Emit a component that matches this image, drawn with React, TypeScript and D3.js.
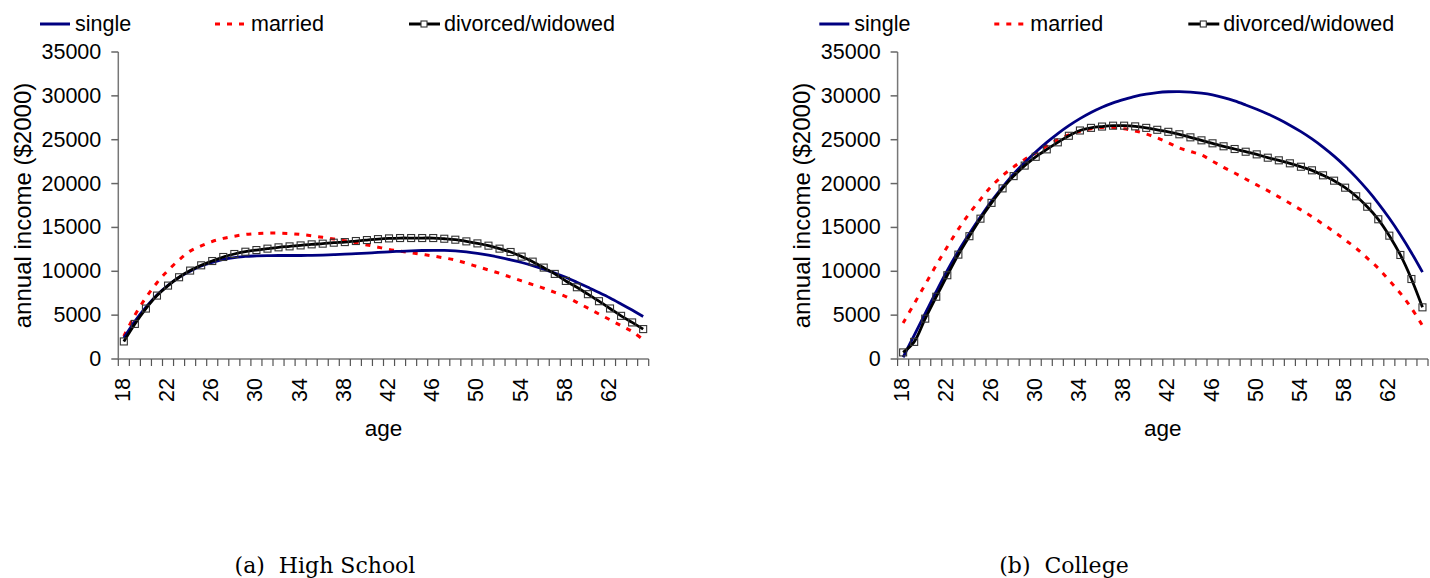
import React from "react";
import * as d3 from "d3";

const ages = [
  18, 19, 20, 21, 22, 23, 24, 25, 26, 27, 28, 29,
  30, 31, 32, 33, 34, 35, 36, 37, 38, 39, 40, 41,
  42, 43, 44, 45, 46, 47, 48, 49, 50, 51, 52, 53,
  54, 55, 56, 57, 58, 59, 60, 61, 62, 63, 64, 65,
];
const ageLabels = [18, 22, 26, 30, 34, 38, 42, 46, 50, 54, 58, 62];
const yTicks = [0, 5000, 10000, 15000, 20000, 25000, 30000, 35000];

const hsSingle = [
  2400, 4300, 5900, 7300, 8400, 9300, 10000, 10600, 11000, 11350, 11550, 11700,
  11750, 11780, 11800, 11800, 11800, 11820, 11850, 11900, 11950, 12020, 12080, 12150,
  12220, 12280, 12330, 12370, 12390, 12380, 12330, 12220, 12050, 11830, 11580, 11300,
  11000, 10650, 10250, 9800, 9320, 8750, 8170, 7580, 6960, 6280, 5580, 4850,
];
const hsMarried = [
  2600, 5000, 7000, 8700, 10100, 11300, 12300, 12900, 13400, 13750, 14000, 14200,
  14300, 14350, 14350, 14300, 14200, 14050, 13870, 13680, 13480, 13250, 13000, 12750,
  12500, 12300, 12120, 11930, 11740, 11520, 11290, 10920, 10530, 10150, 9770, 9330,
  8900, 8480, 8070, 7600, 7120, 6460, 5800, 5130, 4470, 3800, 3140, 2200,
];
const hsDivorced = [
  2000, 4000, 5750, 7230, 8370, 9320, 10080, 10680, 11170, 11630, 11970, 12230,
  12420, 12580, 12730, 12840, 12950, 13070, 13150, 13260, 13330, 13450, 13560, 13670,
  13750, 13790, 13790, 13790, 13790, 13710, 13600, 13410, 13180, 12920, 12580, 12200,
  11670, 11100, 10420, 9700, 8900, 8180, 7390, 6590, 5760, 4920, 4170, 3410,
];

const colSingle = [
  200, 2700, 5200, 7700, 10100, 12300, 14300, 16200, 18000, 19600, 21100, 22400,
  23600, 24700, 25700, 26600, 27400, 28100, 28700, 29200, 29600, 29950, 30200, 30380,
  30470, 30490, 30430, 30300, 30100, 29800, 29420, 28960, 28470, 27930, 27330, 26660,
  25920, 25090, 24160, 23130, 21980, 20710, 19300, 17750, 16040, 14170, 12120, 9900,
];
const colMarried = [
  4100, 6300, 8500, 10700, 12800, 14800, 16600, 18200, 19700, 20900, 21900, 22750,
  23500, 24300, 25000, 25550, 25950, 26250, 26400, 26400, 26250, 26000, 25650, 25200,
  24650, 24050, 23650, 23260, 22550, 21850, 21200, 20520, 19850, 19190, 18480, 17750,
  17000, 16220, 15380, 14510, 13580, 12620, 11500, 10340, 8950, 7490, 5800, 3800,
];
const colDivorced = [
  750, 1950, 4600, 7100, 9550, 11900, 14000, 16000, 17800, 19450, 20850, 22050,
  23050, 23900, 24700, 25450, 26050, 26350, 26500, 26600, 26600, 26520, 26350, 26130,
  25900, 25620, 25270, 24930, 24590, 24250, 23940, 23630, 23330, 22950, 22650, 22310,
  21920, 21510, 20940, 20330, 19530, 18550, 17360, 15930, 14060, 11860, 9120, 5890,
];

const seriesNames = ["single", "married", "divorced/widowed"];

const FONT = "'Liberation Sans', Arial, sans-serif";
const SERIF = "'DejaVu Serif', 'Liberation Serif', serif";
const BLUE = "#000080";
const RED = "#ff0000";

type PanelProps = {
  dx: number;
  single: number[];
  married: number[];
  divorced: number[];
  caption: string;
  captionX: number;
};

function Panel({ dx, single, married, divorced, caption, captionX }: PanelProps) {
  const x0 = 118.3 + dx;
  const plotW = 530.4;
  const yTop = 52;
  const yBot = 359;
  const x = d3.scaleBand<number>().domain(ages).range([x0, x0 + plotW]).padding(0);
  const y = d3.scaleLinear().domain([0, 35000]).range([yBot, yTop]);
  const bw = x.bandwidth();
  const cx = (a: number) => (x(a) as number) + bw / 2;
  const line = d3
    .line<number>()
    .x((_, i) => cx(ages[i]))
    .y((v) => y(v))
    .curve(d3.curveCatmullRom.alpha(0.5));

  const boundaries = ages.map((a) => x(a) as number).concat([x0 + plotW]);
  const legendY = 24;
  const LFS = 21.5;

  return (
    <g>
      {/* legend */}
      <line x1={40 + dx} x2={70 + dx} y1={legendY} y2={legendY} stroke={BLUE} strokeWidth={3} />
      <text x={75 + dx} y={legendY} dominantBaseline="central" fontSize={LFS} fontFamily={FONT}>
        {seriesNames[0]}
      </text>
      <line
        x1={215 + dx}
        x2={247 + dx}
        y1={legendY}
        y2={legendY}
        stroke={RED}
        strokeWidth={3}
        strokeDasharray="5,7"
      />
      <text x={251 + dx} y={legendY} dominantBaseline="central" fontSize={LFS} fontFamily={FONT}>
        {seriesNames[1]}
      </text>
      <line x1={409 + dx} x2={440 + dx} y1={legendY} y2={legendY} stroke="#000" strokeWidth={3} />
      <rect x={421 + dx} y={legendY - 3} width={6} height={6} fill="#fff" stroke="#333" strokeWidth={1.1} />
      <text x={444 + dx} y={legendY} dominantBaseline="central" fontSize={LFS} fontFamily={FONT}>
        {seriesNames[2]}
      </text>

      {/* y axis */}
      <line x1={x0} x2={x0} y1={yTop} y2={yBot} stroke="#777" strokeWidth={1.5} />
      {yTicks.map((t) => (
        <g key={t}>
          <line x1={x0 - 7} x2={x0} y1={y(t)} y2={y(t)} stroke="#666" strokeWidth={1.5} />
          <text
            x={x0 - 17}
            y={y(t)}
            textAnchor="end"
            dominantBaseline="central"
            fontSize={21.5}
            fontFamily={FONT}
          >
            {t}
          </text>
        </g>
      ))}
      <text
        transform={`translate(${22 + dx},${(yTop + yBot) / 2}) rotate(-90)`}
        textAnchor="middle"
        dominantBaseline="central"
        fontSize={24}
        fontFamily={FONT}
      >
        annual income ($2000)
      </text>

      {/* x axis */}
      <line x1={x0} x2={x0 + plotW} y1={yBot} y2={yBot} stroke="#777" strokeWidth={1.5} />
      {boundaries.map((b, i) => (
        <line key={i} x1={b} x2={b} y1={yBot} y2={yBot + 7} stroke="#555" strokeWidth={1.2} />
      ))}
      {ageLabels.map((a) => (
        <text
          key={a}
          transform={`translate(${cx(a) - 1},378) rotate(-90)`}
          textAnchor="end"
          dominantBaseline="central"
          fontSize={21.5}
          fontFamily={FONT}
        >
          {a}
        </text>
      ))}
      <text x={x0 + plotW / 2} y={428} textAnchor="middle" dominantBaseline="central" fontSize={22.5} fontFamily={FONT}>
        age
      </text>

      {/* series */}
      <path d={line(married) || ""} fill="none" stroke={RED} strokeWidth={3} strokeDasharray="5,7" />
      <path d={line(single) || ""} fill="none" stroke={BLUE} strokeWidth={2.8} />
      <path d={line(divorced) || ""} fill="none" stroke="#000" strokeWidth={2.8} />
      {divorced.map((v, i) => (
        <rect
          key={i}
          x={cx(ages[i]) - 3.5}
          y={y(v) - 3.5}
          width={7}
          height={7}
          fill="none"
          stroke="#333"
          strokeWidth={1.1}
        />
      ))}

      {/* caption */}
      <text
        x={captionX}
        y={565}
        textAnchor="middle"
        dominantBaseline="central"
        fontSize={22}
        fontFamily={SERIF}
        style={{ whiteSpace: "pre" }}
      >
        {caption}
      </text>
    </g>
  );
}

export default function App() {
  return (
    <div style={{ position: "absolute", left: 0, top: 0 }}>
      <svg width={1430} height={578} style={{ display: "block", background: "#fff" }}>
        <Panel dx={0} single={hsSingle} married={hsMarried} divorced={hsDivorced} caption="(a)  High School" captionX={325} />
        <Panel dx={779.3} single={colSingle} married={colMarried} divorced={colDivorced} caption="(b)  College" captionX={1064} />
      </svg>
    </div>
  );
}
